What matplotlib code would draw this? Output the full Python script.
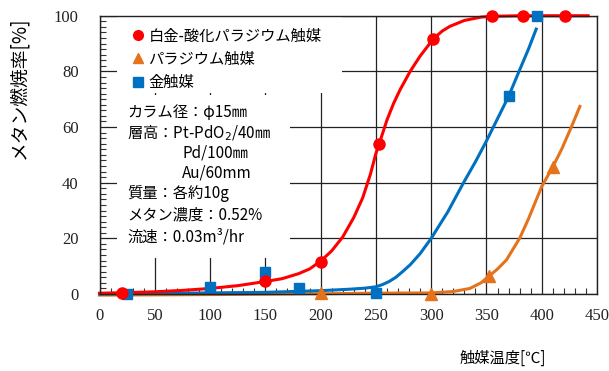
import numpy as np
import matplotlib
matplotlib.use("Agg")
import matplotlib.pyplot as plt
from matplotlib.patches import Rectangle
from matplotlib.ticker import MultipleLocator

plt.rcParams['font.family'] = ['Noto Sans CJK JP', 'DejaVu Sans']

# -*- data -*-
# measured points
pt_x = [20, 150, 200, 253, 302, 355, 383, 421]
pt_y = [0.5, 4.7, 11.5, 53.8, 91.7, 100, 100, 100]
pd_x = [200, 300, 352, 410]
pd_y = [0.5, 0.0, 6.3, 45.7]
au_x = [25, 100, 150, 180, 250, 370, 396]
au_y = [0.0, 2.6, 7.8, 2.3, 0.5, 71, 100]

# fitted curves (traced)
pt_curve_x = [0, 25, 50, 75, 100, 125, 150, 165, 180, 190, 200, 210, 220, 230, 238,
              245, 250, 253, 260, 266, 272, 281, 290, 302, 310, 317, 330, 345, 355,
              380, 442]
pt_curve_y = [0.3, 0.5, 0.8, 1.3, 2.0, 3.0, 4.5, 5.5, 7.3, 9.0, 11.8, 15.5, 20.5, 27.5,
              34.5, 43, 50.5, 54, 62.5, 68.5, 73.5, 80, 85.5, 91.7, 94.5, 96.2, 98.3,
              99.5, 99.8, 100, 100]
au_curve_x = [0, 50, 100, 150, 200, 225, 240, 250, 256, 262, 268, 274, 281, 290, 300,
              315, 329, 340, 350, 360, 370, 380, 388, 395]
au_curve_y = [0.0, 0.2, 0.4, 0.6, 1.2, 1.7, 2.1, 2.6, 3.4, 4.5, 6.0, 8.0, 10.5, 14.5,
              20, 29.5, 39.8, 47.5, 55, 63, 71, 80.5, 88, 95.2]
pd_curve_x = [0, 100, 200, 250, 300, 320, 335, 345, 352, 360, 368, 380, 388, 395,
              400, 410, 418, 427, 434.5]
pd_curve_y = [-0.4, -0.2, 0.1, 0.3, 0.4, 0.9, 2, 4, 6.3, 9, 12.2, 20, 27, 33.8,
              38.6, 45.7, 52, 60.2, 67.4]

labels = ['白金-酸化パラジウム触媒', 'パラジウム触媒', '金触媒']
x_ticks = np.arange(0, 451, 50)
y_ticks = np.arange(0, 101, 20)

c_red = '#ff0000'
c_org = '#e5731c'
c_blu = '#0070c0'

fig = plt.figure(figsize=(6.09, 3.71), dpi=100)
ax = fig.add_axes([0.1634, 0.2075, 0.8169, 0.7501])
ax.set_xlim(0, 450)
ax.set_ylim(0, 100)
ax.set_axisbelow(True)
ax.grid(True, which='major', color='#222222', lw=0.9)

# white boxes behind legend and notes (hide grid)
ax.add_patch(Rectangle((0.035, 0.722), 0.452, 0.278, transform=ax.transAxes,
                       facecolor='white', edgecolor='none', zorder=1))
ax.add_patch(Rectangle((0.035, 0.129), 0.348, 0.586, transform=ax.transAxes,
                       facecolor='white', edgecolor='none', zorder=1))

# curves
ax.plot(pd_curve_x, pd_curve_y, color=c_org, lw=2.2, zorder=2, clip_on=False)
ax.plot(au_curve_x, au_curve_y, color=c_blu, lw=2.2, zorder=2.1, clip_on=False)
ax.plot(pt_curve_x, pt_curve_y, color=c_red, lw=2.2, zorder=2.2, clip_on=False)

# markers
h_pd, = ax.plot(pd_x, pd_y, ls='none', marker='^', ms=8, color=c_org, zorder=3, clip_on=False)
h_au, = ax.plot(au_x, au_y, ls='none', marker='s', ms=7, color=c_blu, zorder=3.1, clip_on=False)
h_pt, = ax.plot(pt_x, pt_y, ls='none', marker='o', ms=8, color=c_red, zorder=3.2, clip_on=False)

leg = ax.legend([h_pt, h_pd, h_au], labels, loc='upper left', bbox_to_anchor=(0.069, 0.958),
                frameon=False, fontsize=11, handlelength=0.6, handletextpad=0.35,
                labelspacing=0.42, borderpad=0, borderaxespad=0)
for h in leg.legend_handles:
    h.set_markersize(7)

# notes
def ax_xy(px, py):
    return (px - 99.5) / 497.5, (294 - py) / 278.3

notes = [
    (127, 112, 'カラム径：φ15㎜'),
    (127, 133, '層高：Pt-PdO$_2$/40㎜'),
    (182, 153, 'Pd/100㎜'),
    (182, 173, 'Au/60mm'),
    (127, 193, '質量：各約10g'),
    (127, 215, 'メタン濃度：0.52%'),
    (127, 237, '流速：0.03m³/hr'),
]
for px, py, s in notes:
    x, y = ax_xy(px, py)
    ax.text(x, y, s, transform=ax.transAxes, fontsize=11, ha='left', va='center', zorder=4)

# ticks
ax.set_xticks(x_ticks)
ax.set_yticks(y_ticks)
ax.xaxis.set_minor_locator(MultipleLocator(10))
ax.yaxis.set_minor_locator(MultipleLocator(2))
ax.tick_params(which='major', direction='in', length=0)
ax.tick_params(axis='x', which='major', pad=10)
ax.tick_params(axis='y', which='major', pad=15)
ax.tick_params(which='minor', direction='in', length=4, width=0.8, color='#333333')
for lb in ax.get_xticklabels() + ax.get_yticklabels():
    lb.set_fontfamily('Liberation Serif')
    lb.set_fontsize(12)
    lb.set_color('#222222')
for sp in ax.spines.values():
    sp.set_color('#222222')
    sp.set_linewidth(1.0)

fig.text(19 / 609, 1 - 88 / 371, 'メタン燃焼率[%]', rotation=90, ha='center', va='center', fontsize=13.5)
fig.text(503 / 609, 1 - 358 / 371, '触媒温度[℃]', ha='center', va='center', fontsize=11)

fig.savefig('out.png', dpi=100)
